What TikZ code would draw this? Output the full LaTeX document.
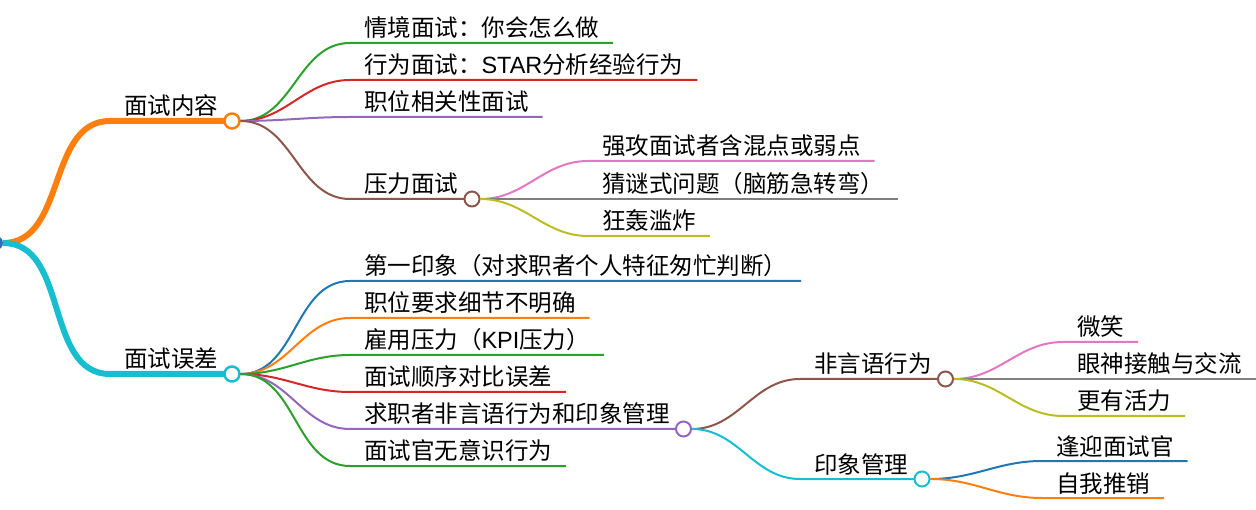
\documentclass[tikz,border=0pt]{standalone}
\usepackage{fontspec}
\usepackage{xcolor}
\usepackage{tikz}
\usetikzlibrary{positioning,calc}
\newfontfamily\cjk{Noto Sans CJK SC}
\newfontfamily\lat{Liberation Sans}

\definecolor{cblue}{HTML}{1F77B4}
\definecolor{corange}{HTML}{FF7F0E}
\definecolor{cgreen}{HTML}{2CA02C}
\definecolor{cred}{HTML}{D62728}
\definecolor{cpurple}{HTML}{9467BD}
\definecolor{cbrown}{HTML}{8C564B}
\definecolor{cpink}{HTML}{E377C2}
\definecolor{cgray}{HTML}{7F7F7F}
\definecolor{colive}{HTML}{BCBD22}
\definecolor{ccyan}{HTML}{17BECF}

\tikzset{
  topic/.style={anchor=south west, inner xsep=14pt, inner ysep=6pt, text depth=0pt, outer sep=0pt, font=\cjk\fontsize{23.5}{24}\selectfont},
  joint/.style={circle, draw=#1, fill=white, line width=2pt, minimum size=15pt, inner sep=0pt},
  branch/.style={draw=#1, line width=2pt, out=0, in=180},
}

\begin{document}
\begin{tikzpicture}[x=1pt, y=-1pt]
  \useasboundingbox (0,0) rectangle (1256,510);

  % root, cut off by the left edge
  \node[circle, fill=cblue, minimum size=14pt, inner sep=0pt] (root) at (-4,243) {};

  % branch 1
  \node[topic] (k1) at (110,121) {面试内容};
  \draw[branch=corange, line width=6pt] (root.east) to (k1.south west) -- (k1.south east);
  \node[joint=corange, line width=2.5pt] (d1) at (k1.south east) {};

  \foreach \y/\col/\txt [count=\i] in {43/cgreen/情境面试：你会怎么做, 80/cred/行为面试：{\lat STAR}分析经验行为, 117/cpurple/职位相关性面试, 199/cbrown/压力面试} {
    \node[topic] (a\i) at (350,\y) {\txt};
    \draw[branch=\col] (d1.east) to (a\i.south west) -- (a\i.south east);
  }
  \node[joint=cbrown] (da4) at (a4.south east) {};

  % 压力面试
  \foreach \y/\col/\txt [count=\i] in {161/cpink/强攻面试者含混点或弱点, 199/cgray/猜谜式问题（脑筋急转弯）, 236/colive/狂轰滥炸} {
    \node[topic] (p\i) at (588,\y) {\txt};
    \draw[branch=\col] (da4.east) to (p\i.south west) -- (p\i.south east);
  }

  % branch 2
  \node[topic] (k2) at (110,374) {面试误差};
  \draw[branch=ccyan, line width=6pt] (root.east) to (k2.south west) -- (k2.south east);
  \node[joint=ccyan, line width=2.5pt] (d2) at (k2.south east) {};

  \foreach \y/\col/\txt [count=\i] in {281/cblue/第一印象（对求职者个人特征匆忙判断）, 318/corange/职位要求细节不明确, 355/cgreen/雇用压力（{\lat KPI}压力）, 392/cred/面试顺序对比误差, 429/cpurple/求职者非言语行为和印象管理, 466/cgreen/面试官无意识行为} {
    \node[topic] (b\i) at (350,\y) {\txt};
    \draw[branch=\col] (d2.east) to (b\i.south west) -- (b\i.south east);
  }
  \node[joint=cpurple] (db5) at (b5.south east) {};

  % 求职者非言语行为和印象管理
  \node[topic] (m1) at (800,379) {非言语行为};
  \node[topic] (m2) at (800,479) {印象管理};
  \draw[branch=cbrown] (db5.east) to (m1.south west) -- (m1.south east);
  \draw[branch=ccyan] (db5.east) to (m2.south west) -- (m2.south east);
  \node[joint=cbrown] (dm1) at (m1.south east) {};
  \node[joint=ccyan] (dm2) at (m2.south east) {};

  \foreach \y/\col/\txt [count=\i] in {342/cpink/微笑, 379/cgray/眼神接触与交流, 416/colive/更有活力} {
    \node[topic] (f\i) at (1063,\y) {\txt};
    \draw[branch=\col] (dm1.east) to (f\i.south west) -- (f\i.south east);
  }
  \foreach \y/\col/\txt [count=\i] in {461/cblue/逢迎面试官, 498/corange/自我推销} {
    \node[topic] (g\i) at (1042,\y) {\txt};
    \draw[branch=\col] (dm2.east) to (g\i.south west) -- (g\i.south east);
  }
\end{tikzpicture}
\end{document}
